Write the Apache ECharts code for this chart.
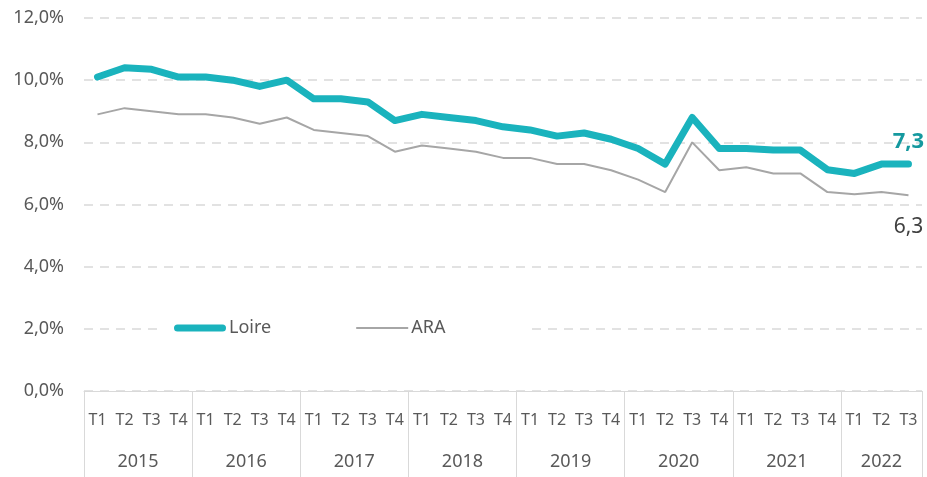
<!DOCTYPE html>
<html>
<head>
<meta charset="utf-8">
<script src="https://cdn.jsdelivr.net/npm/echarts@6/dist/echarts.min.js"></script>
<style>html,body{margin:0;padding:0;background:#fff}#c{width:927px;height:477px}</style>
</head>
<body>
<div id="c"></div>
<script>
const years = ['2015','2016','2017','2018','2019','2020','2021','2022'];
const quarters = ['T1','T2','T3','T4','T1','T2','T3','T4','T1','T2','T3','T4','T1','T2','T3','T4',
  'T1','T2','T3','T4','T1','T2','T3','T4','T1','T2','T3','T4','T1','T2','T3'];
const loire = [10.1,10.4,10.35,10.1, 10.1,10.0,9.8,10.0, 9.4,9.4,9.3,8.7, 8.9,8.8,8.7,8.5,
  8.4,8.2,8.3,8.1, 7.8,7.3,8.8,7.8, 7.8,7.75,7.75,7.12, 7.0,7.3,7.3];
const ara = [8.9,9.1,9.0,8.9, 8.9,8.8,8.6,8.8, 8.4,8.3,8.2,7.7, 7.9,7.8,7.7,7.5,
  7.5,7.3,7.3,7.1, 6.8,6.4,8.0,7.1, 7.2,7.0,7.0,6.4, 6.33,6.4,6.3];
const yTicks = [0,2,4,6,8,10,12];
const yearBounds = [0,4,8,12,16,20,24,28,31];
const yearCenters = [2,6,10,14,18,22,26,29.5];

const font = "'Noto Sans', sans-serif";
const txt = '#595959';

function withLastLabel(arr, label) {
  return arr.map((v, i) => i === arr.length - 1 ? { value: v, label: label } : v);
}

const chart = echarts.init(document.getElementById('c'), null, { renderer: 'canvas' });
chart.setOption({
  animation: false,
  textStyle: { fontFamily: font },
  grid: { left: 84, right: 5, top: 18, bottom: 86, containLabel: false },
  legend: {
    data: [
      { name: 'Loire', icon: 'path://M3.5,0 L48.5,0 A3.5,3.5 0 0 1 48.5,7 L3.5,7 A3.5,3.5 0 0 1 3.5,0Z' },
      { name: 'ARA', icon: 'path://M0,0 L52,0 L52,2 L0,2Z' }
    ],
    left: 160, top: 313,
    padding: [6, 82, 6, 14],
    backgroundColor: '#ffffff',
    itemWidth: 52, itemHeight: 14, itemGap: 85,
    textStyle: { color: txt, fontSize: 18, fontFamily: font, padding: [0, 0, 0, -2] },
    selectedMode: false
  },
  xAxis: [
    {
      type: 'category', data: quarters, boundaryGap: true,
      axisLine: { show: true, lineStyle: { color: '#d9d9d9', width: 1 } },
      axisTick: { show: false },
      axisLabel: { interval: 0, color: txt, fontSize: 16, margin: 21, fontFamily: font },
      splitLine: { show: false }
    },
    {
      type: 'value', min: 0, max: 31, position: 'bottom', offset: 0,
      axisLine: { show: false },
      splitLine: { show: false },
      axisTick: { show: true, customValues: yearBounds, length: 90, inside: false,
        lineStyle: { color: '#d9d9d9', width: 1 } },
      axisLabel: { show: true, customValues: yearCenters, margin: 62, color: txt, fontSize: 18,
        fontFamily: font,
        formatter: v => years[Math.min(years.length - 1, Math.floor(v / 4))] }
    }
  ],
  yAxis: {
    type: 'value', min: 0, max: 12, interval: 2,
    axisLine: { show: false }, axisTick: { show: false },
    axisLabel: { color: txt, fontSize: 18, margin: 20, fontFamily: font,
      formatter: v => v.toFixed(1).replace('.', ',') + '%' },
    splitLine: { show: true, lineStyle: { color: '#d9d9d9', width: 1.5, type: [9, 7] } }
  },
  series: [
    {
      name: 'ARA', type: 'line', xAxisIndex: 0,
      data: withLastLabel(ara, { show: true, position: 'bottom', distance: 21,
        formatter: p => p.value.toFixed(1).replace('.', ','),
        color: '#404040', fontSize: 21, fontFamily: font }),
      symbol: 'circle', symbolSize: 0.1, showSymbol: true,
      itemStyle: { color: '#a6a6a6' },
      lineStyle: { color: '#a6a6a6', width: 2 },
      z: 2
    },
    {
      name: 'Loire', type: 'line', xAxisIndex: 0,
      data: withLastLabel(loire, { show: true, position: 'top', distance: 11,
        formatter: p => p.value.toFixed(1).replace('.', ','),
        color: '#15999f', fontSize: 22, fontWeight: 'bold', fontFamily: font }),
      symbol: 'circle', symbolSize: 0.1, showSymbol: true,
      itemStyle: { color: '#1ab3bd' },
      lineStyle: { color: '#1ab3bd', width: 7, cap: 'round', join: 'round' },
      z: 3
    }
  ]
});
</script>
</body>
</html>
